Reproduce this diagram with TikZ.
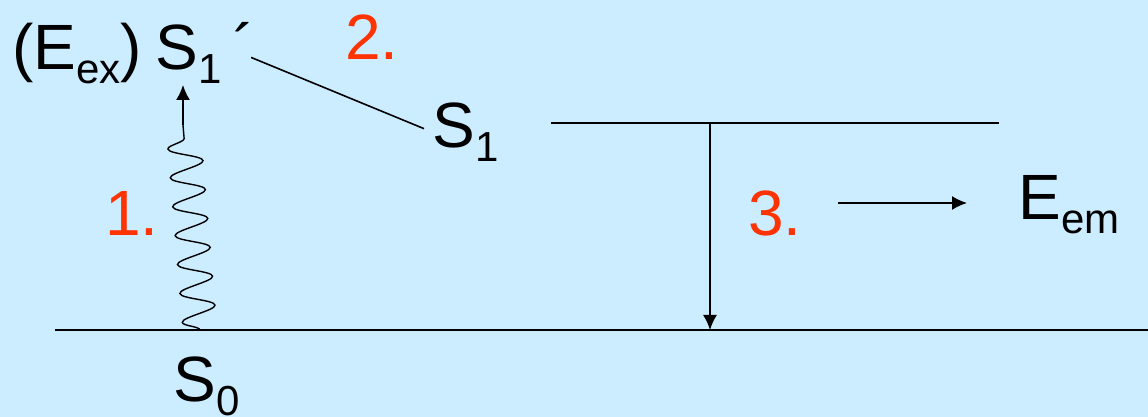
\documentclass[tikz,border=0pt]{standalone}
\usepackage{fontspec}
\setmainfont{Liberation Sans}
\usepackage{xcolor}
\usetikzlibrary{arrows.meta, positioning, decorations.pathmorphing}
\definecolor{bgblue}{HTML}{CCECFF}
\definecolor{stepred}{HTML}{FF3300}
\newcommand{\lvsub}[1]{\raisebox{-7pt}{\fontsize{21}{21}\selectfont #1}}
\tikzset{
    levellabel/.style={
        anchor=base west,
        inner sep=0pt,
        font=\fontsize{32}{38}\selectfont
    },
    steplabel/.style={
        anchor=base west,
        inner sep=0pt,
        text=stepred,
        font=\fontsize{32}{38}\selectfont
    },
    level/.style={
        line width=1pt,
        draw=black
    },
    arrow/.style={
        -{Latex[length=7.5pt, width=7pt]},
        line width=0.8pt,
        draw=black
    },
    photon/.style={
        decorate,
        decoration={snake, amplitude=8.5pt, segment length=14.5pt},
        line width=0.7pt
    }
}

\begin{document}
\begin{tikzpicture}[x=0.5pt, y=-0.5pt]
    \fill[bgblue] (0,0) rectangle (1148,417);
    \useasboundingbox (0,0) rectangle (1148,417);

    % levels
    \coordinate (g0l) at (55,330);
    \coordinate (g0r) at (1148,330);
    \coordinate (s1l) at (551,123);
    \coordinate (s1r) at (999,123);
    \draw[level] (g0l) -- (g0r);
    \draw[level] (s1l) -- (s1r);

    % labels
    \node[levellabel] (eex) at (12,70) {(E\lvsub{ex})};
    \node[levellabel] (s1p) at (155,70) {S\lvsub{1}\hspace{6pt}´};
    \node[levellabel] (s1) at (432,148) {S\lvsub{1}};
    \node[levellabel] (s0) at (173,401) {S\lvsub{0}};
    \node[levellabel] (eem) at (1018,220) {E\lvsub{em}};
    \node[steplabel] (one) at (105,235) {1.};
    \node[steplabel] (two) at (345,60) {2.};
    \node[steplabel] (three) at (748,235) {3.};

    % 1. absorption
    \coordinate (foot) at (200,330);
    \coordinate (wtop) at (183,125);
    \coordinate (abstip) at (183,85);
    \draw[photon] (foot) -- (wtop);
    \draw[arrow] (wtop) -- (abstip);

    % 2. relaxation
    \draw[level, line width=0.8pt] ([xshift=-2pt,yshift=-2pt]s1p.east) -- ([xshift=-4pt,yshift=2pt]s1.west);

    % 3. emission
    \coordinate (emtop) at (710,123);
    \coordinate (embot) at (710,330);
    \draw[arrow] (emtop) -- (embot);
    \coordinate (outa) at (838,203);
    \coordinate (outb) at (967,203);
    \draw[arrow] (outa) -- (outb);
\end{tikzpicture}
\end{document}
